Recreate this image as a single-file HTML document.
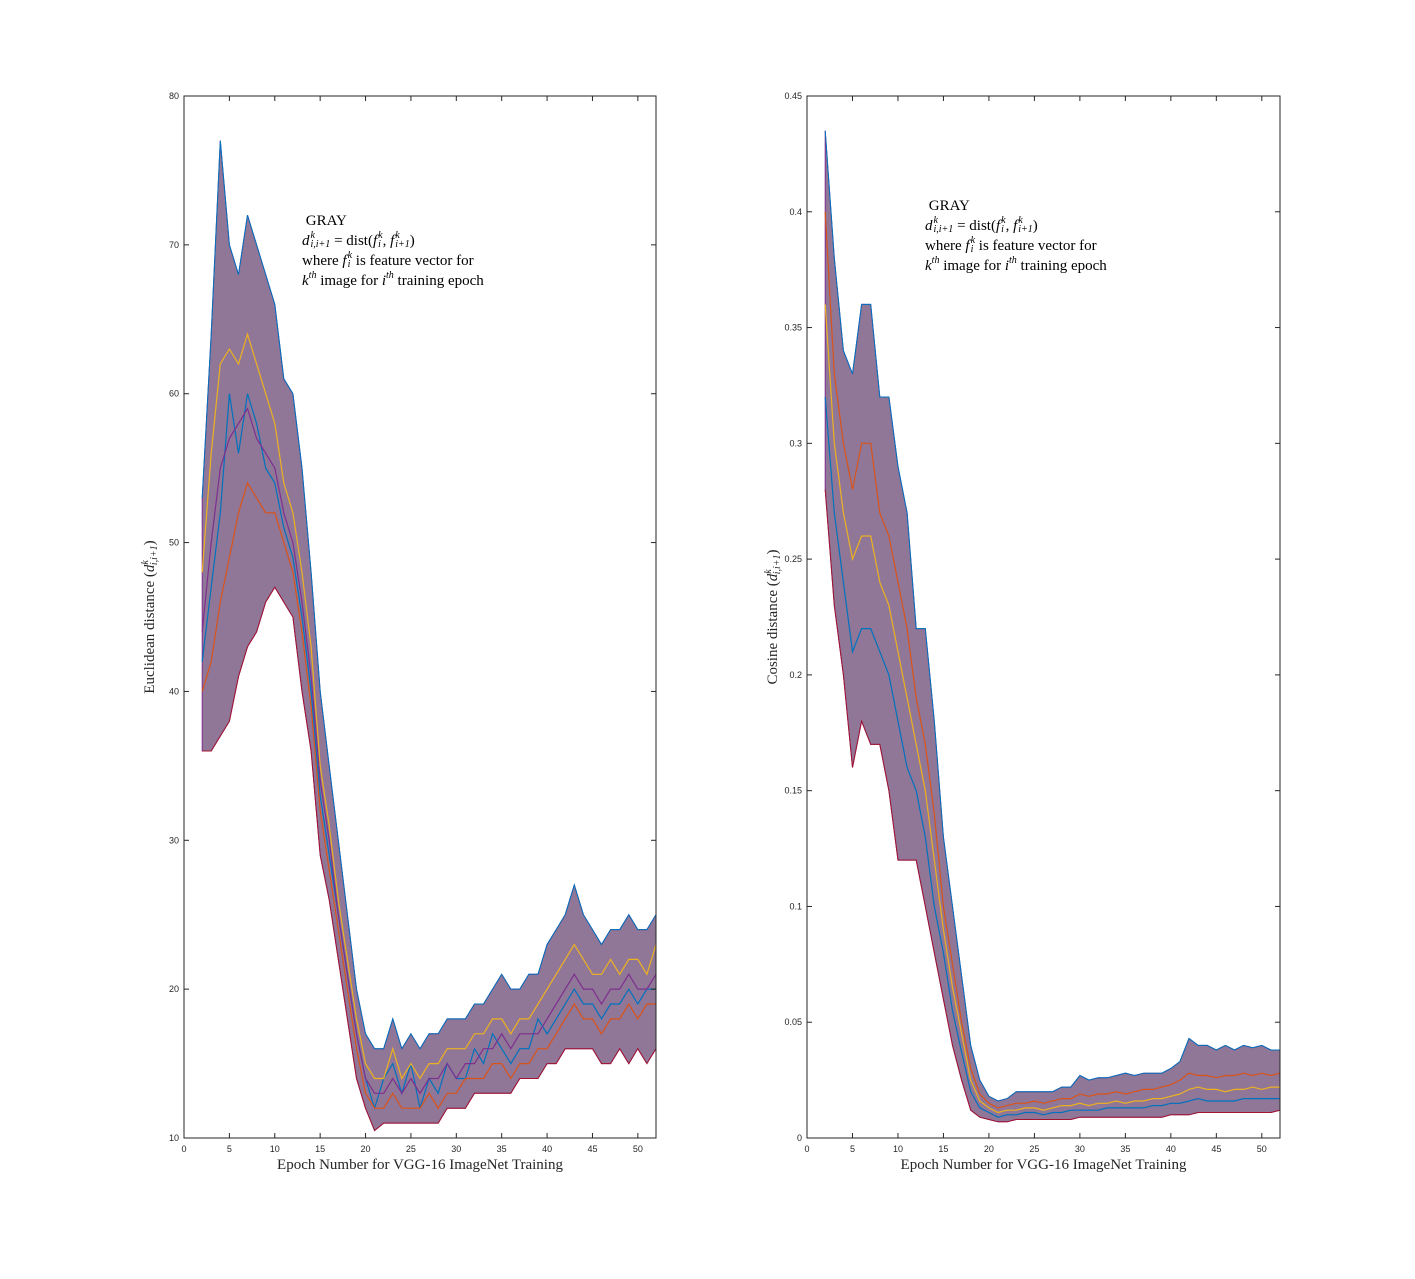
<!DOCTYPE html>
<html><head><meta charset="utf-8">
<style>
body{margin:0;background:#fff;}
#wrap{position:relative;width:1415px;height:1279px;overflow:hidden;}
svg text{font-family:"Liberation Sans",sans-serif;}
svg text.serif{font-family:"Liberation Serif",serif;}
.ann{position:absolute;font-family:"Liberation Serif",serif;font-size:15px;line-height:20px;color:#000;}
.ann i{font-style:italic}
.ss{display:inline-block;vertical-align:middle;font-size:10px;line-height:9px;font-style:italic;margin-left:1px;position:relative;top:-2px}
.ss b{display:block;font-weight:normal}
.sp{font-size:10px;vertical-align:7px;line-height:0;font-style:italic}
</style></head><body>
<div id="wrap">
<svg id="fig" width="1415" height="1279"></svg>
<div class="ann" style="left:302px;top:211px">&nbsp;GRAY<br><i>d</i><span class="ss"><b>k</b><b>i,i+1</b></span> = dist(<i>f</i><span class="ss"><b>k</b><b>i</b></span>, <i>f</i><span class="ss"><b>k</b><b>i+1</b></span>)<br>where <i>f</i><span class="ss"><b>k</b><b>i</b></span> is feature vector for<br><i>k</i><span class="sp">th</span> image for <i>i</i><span class="sp">th</span> training epoch</div>
<div class="ann" style="left:925px;top:196px">&nbsp;GRAY<br><i>d</i><span class="ss"><b>k</b><b>i,i+1</b></span> = dist(<i>f</i><span class="ss"><b>k</b><b>i</b></span>, <i>f</i><span class="ss"><b>k</b><b>i+1</b></span>)<br>where <i>f</i><span class="ss"><b>k</b><b>i</b></span> is feature vector for<br><i>k</i><span class="sp">th</span> image for <i>i</i><span class="sp">th</span> training epoch</div>
</div>
<script>
const epochStart = 2;
const xTicks = [0,5,10,15,20,25,30,35,40,45,50];
const leftYTicks = [10,20,30,40,50,60,70,80];
const rightYTicks = [0,0.05,0.1,0.15,0.2,0.25,0.3,0.35,0.4,0.45];
const rightYLabels = ["0","0.05","0.1","0.15","0.2","0.25","0.3","0.35","0.4","0.45"];

const leftLo = [36,36,37,38,41,43,44,46,47,46,45,40,36,29,26,22,18,14,12,10.5,11,11,11,11,11,11,11,12,12,12,13,13,13,13,13,14,14,14,15,15,16,16,16,16,15,15,16,15,16,15,16];
const leftHi = [53,64,77,70,68,72,70,68,66,61,60,55,48,40,35,30,25,20,17,16,16,18,16,17,16,17,17,18,18,18,19,19,20,21,20,20,21,21,23,24,25,27,25,24,23,24,24,25,24,24,25];
const leftS1 = [44,50,55,57,58,59,57,56,55,52,50,46,41,34,30,25,21,17,14,13,13,14,13,14,13,14,14,15,14,15,15,16,16,17,16,17,17,17,18,19,20,21,20,20,19,20,20,21,20,20,21];
const leftS2 = [48,56,62,63,62,64,62,60,58,54,52,48,43,35,31,26,22,18,15,14,14,16,14,15,14,15,15,16,16,16,17,17,18,18,17,18,18,19,20,21,22,23,22,21,21,22,21,22,22,21,23];
const leftS3 = [40,42,46,49,52,54,53,52,52,50,48,44,39,32,28,24,20,16,13,12,12,13,12,12,12,13,12,13,13,14,14,14,15,15,14,15,15,16,16,17,18,19,18,18,17,18,18,19,18,19,19];
const leftS4 = [42,47,52,60,56,60,58,55,54,51,49,45,40,33,29,25,21,17,14,12,14,15,13,15,12,14,13,15,14,14,16,15,17,16,15,16,16,18,17,18,19,20,19,19,18,19,19,20,19,20,20];

const rightLo = [0.28,0.23,0.20,0.16,0.18,0.17,0.17,0.15,0.12,0.12,0.12,0.10,0.08,0.06,0.04,0.025,0.012,0.009,0.008,0.007,0.007,0.008,0.008,0.008,0.008,0.008,0.008,0.008,0.009,0.009,0.009,0.009,0.009,0.009,0.009,0.009,0.009,0.009,0.010,0.010,0.010,0.011,0.011,0.011,0.011,0.011,0.011,0.011,0.011,0.011,0.012];
const rightHi = [0.435,0.38,0.34,0.33,0.36,0.36,0.32,0.32,0.29,0.27,0.22,0.22,0.18,0.13,0.10,0.07,0.04,0.025,0.018,0.016,0.017,0.02,0.02,0.02,0.02,0.02,0.022,0.022,0.027,0.025,0.026,0.026,0.027,0.028,0.027,0.028,0.028,0.028,0.03,0.033,0.043,0.04,0.04,0.038,0.04,0.038,0.04,0.039,0.04,0.038,0.038];
const rightS1 = [0.36,0.30,0.27,0.25,0.26,0.26,0.24,0.23,0.21,0.19,0.17,0.15,0.12,0.09,0.065,0.045,0.025,0.016,0.013,0.011,0.012,0.012,0.013,0.013,0.012,0.013,0.014,0.014,0.015,0.014,0.015,0.015,0.016,0.015,0.016,0.016,0.017,0.017,0.018,0.019,0.021,0.022,0.021,0.021,0.020,0.021,0.021,0.022,0.021,0.022,0.022];
const rightS2 = [0.40,0.33,0.30,0.28,0.30,0.30,0.27,0.26,0.24,0.22,0.19,0.17,0.14,0.10,0.075,0.05,0.03,0.019,0.015,0.013,0.014,0.015,0.015,0.016,0.015,0.016,0.017,0.017,0.019,0.018,0.019,0.019,0.020,0.019,0.020,0.021,0.021,0.022,0.023,0.025,0.028,0.027,0.027,0.026,0.027,0.027,0.028,0.027,0.028,0.027,0.028];
const rightS3 = [0.32,0.27,0.24,0.21,0.22,0.22,0.21,0.20,0.18,0.16,0.15,0.13,0.10,0.08,0.055,0.037,0.02,0.013,0.011,0.009,0.010,0.010,0.011,0.011,0.010,0.011,0.011,0.012,0.012,0.012,0.012,0.013,0.013,0.013,0.013,0.013,0.014,0.014,0.015,0.015,0.016,0.017,0.016,0.016,0.016,0.016,0.017,0.017,0.017,0.017,0.017];

const NS='http://www.w3.org/2000/svg';
const svg=document.getElementById('fig');
const colors=['#0072BD','#D95319','#EDB120','#7E2F8E','#77AC30','#4DBEEE','#A2142F'];
function mk(tag,attrs,parent){const e=document.createElementNS(NS,tag);for(const k in attrs)e.setAttribute(k,attrs[k]);(parent||svg).appendChild(e);return e;}

function drawAxes(cfg){
  const {x0,x1,y0,y1,ymin,ymax,yTicks,yLabels,band,series,yTitle,prefix}=cfg;
  const sx=v=>x0+(v-0)/(52-0)*(x1-x0);
  const sy=v=>y1-(v-ymin)/(ymax-ymin)*(y1-y0);
  const g=mk('g',{});
  
  
  const clipId=prefix+'clip';
  const cp=mk('clipPath',{id:clipId},g);mk('rect',{x:x0,y:y0,width:x1-x0,height:y1-y0},cp);
  const plot=mk('g',{'clip-path':'url(#'+clipId+')'},g);
  
  
  let d='';
  band[1].forEach((v,i)=>{d+=(i?'L':'M')+sx(epochStart+i).toFixed(1)+','+sy(v).toFixed(1);});
  for(let i=band[0].length-1;i>=0;i--)d+='L'+sx(epochStart+i).toFixed(1)+','+sy(band[0][i]).toFixed(1);
  const b=mk('path',{d:d+'Z',fill:'#7d5f86','fill-opacity':'0.85',stroke:'#7E2F8E','stroke-width':1},plot);
  
  
  [band[0],band[1]].forEach((arr,k)=>{
    const p=mk('polyline',{points:arr.map((v,i)=>sx(epochStart+i).toFixed(1)+','+sy(v).toFixed(1)).join(' '),fill:'none',stroke:colors[k?0:6],'stroke-width':1},plot);
    
    
  });
  series.forEach((arr,k)=>{
    const p=mk('polyline',{points:arr.map((v,i)=>sx(epochStart+i).toFixed(1)+','+sy(v).toFixed(1)).join(' '),fill:'none',stroke:colors[k%7],'stroke-width':1.2},plot);
    
    
  });
  mk('rect',{x:x0,y:y0,width:x1-x0,height:y1-y0,fill:'none',stroke:'#262626','stroke-width':1},g);
  xTicks.forEach(t=>{
    const X=sx(t);
    mk('line',{x1:X,x2:X,y1:y1,y2:y1-5,stroke:'#262626'},g);
    mk('line',{x1:X,x2:X,y1:y0,y2:y0+5,stroke:'#262626'},g);
    const tx=mk('text',{x:X,y:y1+14,'font-size':9,'text-anchor':'middle',fill:'#262626'},g);
    tx.textContent=t;
    
    
  });
  yTicks.forEach((t,i)=>{
    const Y=sy(t);
    mk('line',{x1:x0,x2:x0+5,y1:Y,y2:Y,stroke:'#262626'},g);
    mk('line',{x1:x1,x2:x1-5,y1:Y,y2:Y,stroke:'#262626'},g);
    const tx=mk('text',{x:x0-5,y:Y+3,'font-size':9,'text-anchor':'end',fill:'#262626'},g);
    tx.textContent=yLabels?yLabels[i]:t;
    
    
  });
  const xt=mk('text',{x:(x0+x1)/2,y:y1+31,'font-size':15,'text-anchor':'middle',fill:'#262626','class':'serif'},g);
  xt.textContent='Epoch Number for VGG-16 ImageNet Training';
  
  
  const yt=mk('text',{transform:'translate('+(x0-30)+','+((y0+y1)/2)+') rotate(-90)','font-size':15,'text-anchor':'middle',fill:'#262626','class':'serif'},g);
  yt.innerHTML=yTitle+' (<tspan font-style="italic">d</tspan><tspan font-size="10" dy="-6" font-style="italic">k</tspan><tspan font-size="10" dy="9" dx="-5" font-style="italic">i,i+1</tspan><tspan dy="-3">)</tspan>';
  
  
}
drawAxes({x0:184,x1:656,y0:96,y1:1138,ymin:10,ymax:80,yTicks:leftYTicks,band:[leftLo,leftHi],series:[leftS4,leftS3,leftS2,leftS1],yTitle:'Euclidean distance',prefix:'left'});
drawAxes({x0:807,x1:1280,y0:96,y1:1138,ymin:0,ymax:0.45,yTicks:rightYTicks,yLabels:rightYLabels,band:[rightLo,rightHi],series:[rightS3,rightS2,rightS1],yTitle:'Cosine distance',prefix:'right'});
</script>
</body></html>
